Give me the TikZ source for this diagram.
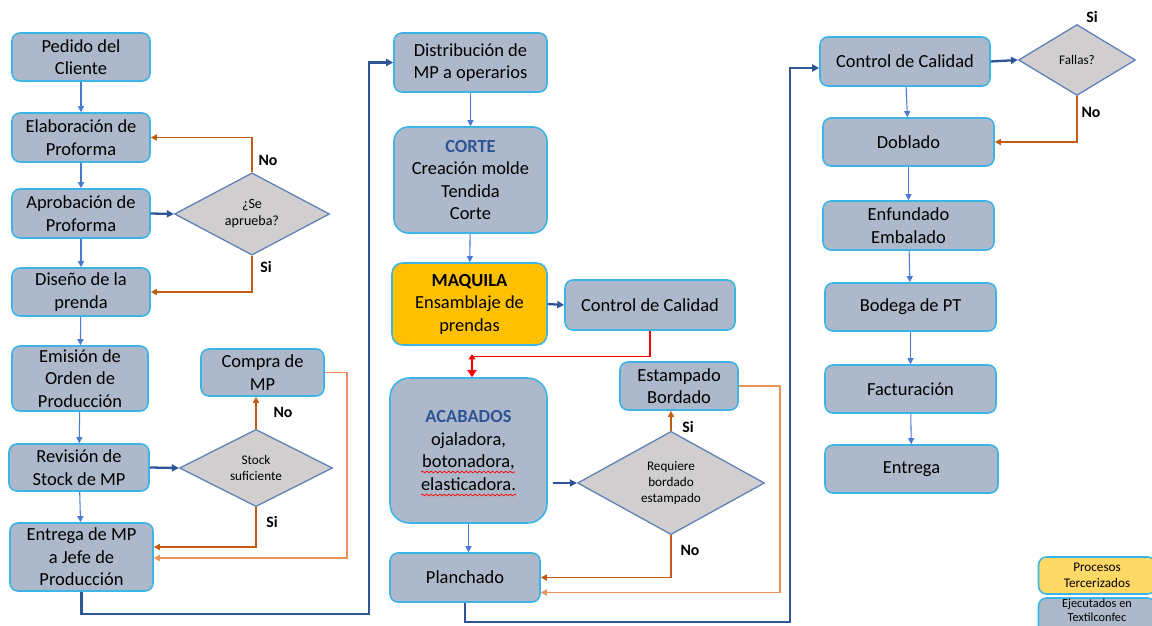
\documentclass[tikz,border=0pt]{standalone}
\usepackage{fontspec}
\setmainfont{Carlito}
\usetikzlibrary{shapes.geometric,arrows.meta,calc,decorations.pathmorphing}
\definecolor{boxfill}{HTML}{ADB9CA}
\definecolor{boxline}{HTML}{3DB4E6}
\definecolor{dfill}{HTML}{D0CECE}
\definecolor{dline}{HTML}{5A7DB8}
\definecolor{thinblue}{HTML}{4A7BD0}
\definecolor{thickblue}{HTML}{2F5597}
\definecolor{orng}{HTML}{C55A11}
\definecolor{lorng}{HTML}{E8935A}
\definecolor{maq}{HTML}{FFC000}
\definecolor{legy}{HTML}{FFD966}
\definecolor{hdblue}{HTML}{2F5597}
\begin{document}
\begin{tikzpicture}[x=0.02cm,y=-0.02cm,
 box/.style={draw=boxline, fill=boxfill, line width=0.9pt, rounded corners=4.5pt, align=center, inner sep=1pt, font=\fontsize{10.5}{12.8}\selectfont},
 dia/.style={diamond, draw=dline, fill=dfill, line width=0.7pt, inner sep=0pt, align=center, font=\fontsize{7.5}{9.2}\selectfont},
 tarrow/.style={draw=thinblue, line width=0.6pt, -{Triangle[length=3.5pt,width=3.5pt]}},
 karrow/.style={draw=thickblue, line width=1.3pt, -{Triangle[length=4pt,width=4pt]}},
 oarrow/.style={draw=orng, line width=0.8pt, -{Triangle[length=3.5pt,width=3.5pt]}},
 loarrow/.style={draw=lorng, line width=0.7pt, -{Triangle[length=3.5pt,width=3.5pt]}},
 lab/.style={font=\bfseries\fontsize{9}{10}\selectfont, inner sep=0pt},
 legtxt/.style={font=\fontsize{7}{7.8}\selectfont, align=center, inner sep=0.5pt},
 squig/.style={draw=red, line width=0.4pt, decorate, decoration={snake, amplitude=0.5pt, segment length=2.5pt}},
 ]
\useasboundingbox (0,0) rectangle (1152,625);
\clip (0,0) rectangle (1152,625);

% ---- left column
\node[box, minimum width=2.76cm, minimum height=0.96cm] (pedido) at (81,57) {Pedido del\\Cliente};
\node[box, minimum width=2.76cm, minimum height=0.98cm] (elab) at (81,137.5) {Elaboración de\\Proforma};
\node[box, minimum width=2.76cm, minimum height=0.98cm] (aprob) at (81,213.5) {Aprobación de\\Proforma};
\node[box, minimum width=2.76cm, minimum height=0.96cm] (disen) at (81,292) {Diseño de la\\prenda};
\node[box, minimum width=2.72cm, minimum height=1.30cm] (emis) at (80,378.5) {Emisión de\\Orden de\\Producción};
\node[box, minimum width=2.80cm, minimum height=0.94cm] (revis) at (79,467.5) {Revisión de\\Stock de MP};
\node[box, minimum width=2.86cm, minimum height=1.36cm] (entrega) at (81.5,557) {Entrega de MP\\a Jefe de\\Producción};
\node[box, minimum width=2.46cm, minimum height=0.94cm] (compra) at (262.5,372.5) {Compra de\\MP};
\node[dia, minimum width=3.10cm, minimum height=1.38cm, font=\fontsize{8}{9.6}\selectfont] (dsea) at (252,214) {¿Se\\aprueba?};
\node[dia, minimum width=3.06cm, minimum height=1.40cm] (dstock) at (256,468) {Stock\\suficiente};

% ---- middle column
\node[box, minimum width=3.06cm, minimum height=1.18cm] (dist) at (470.5,62.5) {Distribución de\\MP a operarios};
\node[box, rounded corners=8pt, minimum width=3.06cm, minimum height=2.12cm] (corte) at (470.5,180) {\textcolor{hdblue}{\bfseries CORTE}\\Creación molde\\Tendida\\Corte};
\node[box, fill=maq, rounded corners=6pt, minimum width=3.10cm, minimum height=1.64cm] (maquila) at (469.5,304) {{\bfseries MAQUILA}\\Ensamblaje de\\prendas};
\node[box, minimum width=3.40cm, minimum height=1.00cm] (cc1) at (650,305) {Control de Calidad};
\node[box, rounded corners=11pt, minimum width=3.14cm, minimum height=2.90cm, font=\fontsize{10.5}{13}\selectfont] (acab) at (468.5,450.5) {\textcolor{hdblue}{\bfseries ACABADOS}\\ojaladora,\\botonadora,\\elasticadora.};
\node[dia, minimum width=3.74cm, minimum height=1.42cm] (dreq) at (671,483) {Requiere\\bordado\\estampado};
\node[box, minimum width=2.36cm, minimum height=0.96cm] (estamp) at (679,386) {Estampado\\Bordado};
\node[box, minimum width=3.00cm, minimum height=0.98cm] (planch) at (465,577.5) {Planchado};

% ---- right column
\node[box, minimum width=3.40cm, minimum height=0.98cm] (cc2) at (905,61.5) {Control de Calidad};
\node[dia, minimum width=2.34cm, minimum height=1.42cm] (dfallas) at (1077,60) {Fallas?};
\node[box, minimum width=3.42cm, minimum height=0.96cm] (dobl) at (908.5,142) {Doblado};
\node[box, minimum width=3.42cm, minimum height=0.98cm] (enf) at (908.5,225.5) {Enfundado\\Embalado};
\node[box, minimum width=3.42cm, minimum height=0.96cm] (bod) at (910.5,307) {Bodega de PT};
\node[box, minimum width=3.42cm, minimum height=0.96cm] (fact) at (910.5,389) {Facturación};
\node[box, minimum width=3.46cm, minimum height=0.96cm] (entg) at (911.5,469) {Entrega};

% ---- legend
\node[box, fill=legy, minimum width=2.34cm, minimum height=0.74cm, font=\fontsize{7.5}{9}\selectfont] (leg1) at (1097,575.5) {Procesos\\Tercerizados};
\node[box, minimum width=2.34cm, minimum height=0.96cm] (leg2) at (1097,622) {};
\node[legtxt, anchor=north] (leg2t) at ([yshift=-0.3pt]leg2.north) {Ejecutados en\\Textilconfec};

% ---- connectors left
\draw[tarrow] (pedido) -- (elab);
\draw[tarrow] (elab) -- (aprob);
\draw[tarrow] (aprob) -- (disen);
\draw[tarrow] (disen) -- (emis);
\draw[tarrow] (emis) -- (revis);
\draw[tarrow] (revis) -- (entrega);
\draw[karrow] (aprob.east) -- (dsea.west);
\draw[oarrow] (dsea.north) |- (elab.east);
\draw[oarrow] (dsea.south) |- (disen.east);
\draw[karrow] (revis.east) -- (dstock.west);
\draw[oarrow] (dstock.north) -- (dstock.north |- compra.south);
\draw[oarrow] (dstock.south) |- ([yshift=0.2cm]entrega.east);
\draw[loarrow] (compra.east) -- (347,372.5) |- ([yshift=-0.02cm]entrega.east);
\draw[karrow] (entrega.south) |- (369,614) |- (dist.west);

\node[lab] (l1) at (268,160) {No};
\node[lab] (l2) at (266,267) {Si};
\node[lab] (l3) at (283,412) {No};
\node[lab] (l4) at (272,522) {Si};

% ---- connectors middle
\draw[tarrow] (dist) -- (corte);
\draw[tarrow] (corte) -- (maquila);
\draw[karrow] (maquila.east) -- (cc1.west);
\draw[draw=red, line width=0.8pt] (cc1.south) |- ($(acab.north)+(3.5,-21)$);
\draw[draw=red, line width=1.4pt, {Triangle[length=3pt,width=4pt]}-{Triangle[length=4pt,width=5pt]}] ($(acab.north)+(3.5,-23)$) -- ($(acab.north)+(3.5,0)$);
\draw[karrow] ([xshift=0.1cm]acab.east |- dreq.west) -- (dreq.west);
\draw[oarrow] (dreq.north) -- (dreq.north |- estamp.south);
\draw[oarrow] (dreq.south) |- (planch.east);
\draw[loarrow] (estamp.east) -- (780,386) |- ([yshift=-0.3cm]planch.east);
\draw[tarrow] (acab.south) -- (acab.south |- planch.north);
\draw[karrow] (planch.south) |- (790,622) |- ([yshift=-0.13cm]cc2.west);

\node[lab] (l5) at (688,427) {Si};
\node[lab] (l6) at (690,550) {No};

% spell-check underlines
\draw[squig] (421,472) -- (515,472);
\draw[squig] (421,495) -- (516,495);

% ---- connectors right
\draw[karrow] (cc2.east) -- (dfallas.west);
\draw[oarrow] (dfallas.south) |- (dobl.east);
\draw[tarrow] (cc2) -- (dobl);
\draw[tarrow] (dobl) -- (enf);
\draw[tarrow] (enf) -- (bod);
\draw[tarrow] (bod) -- (fact);
\draw[tarrow] (fact) -- (entg);

\node[lab] (l7) at (1092,17) {Si};
\node[lab] (l8) at (1091,112) {No};
\end{tikzpicture}
\end{document}
